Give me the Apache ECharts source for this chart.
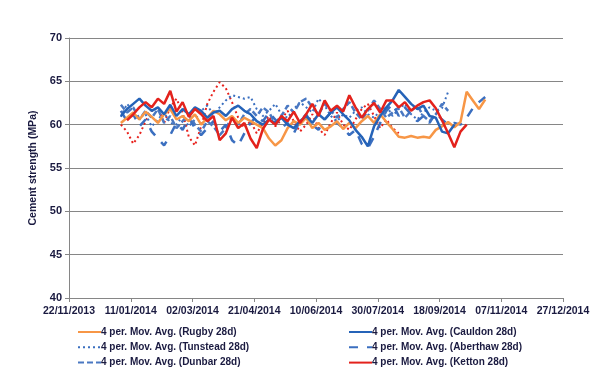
<!DOCTYPE html>
<html><head><meta charset="utf-8">
<script src="https://cdn.jsdelivr.net/npm/echarts@6/dist/echarts.min.js"></script>
<style>html,body{margin:0;padding:0;background:#fff}#c{width:600px;height:384px}</style>
</head><body><div id="c"></div>
<script>
// Excel-style day serials: 41600 = 22/11/2013
const xTickMin = 41600, xTickMax = 42000, xTickStep = 50;
const yMin = 40, yMax = 70, yStep = 5;
const stepDays = 5;

const rugbyStart = 41642;
const rugby = [60.2,60.8,61.4,60.6,61.5,60.9,60.2,61.2,61.8,60.6,61.0,60.4,61.2,60.0,60.8,61.6,61.2,60.5,61.0,60.2,60.8,60.4,60.0,59.6,58.4,57.6,58.2,59.6,60.4,60.0,60.8,59.6,60.2,59.4,59.8,60.4,59.5,60.2,59.6,60.4,61.0,60.2,61.2,60.3,59.5,58.6,58.5,58.7,58.5,58.6,58.5,59.4,59.8,60.3,59.7,60.3,63.8,62.8,61.8,62.9];

const cauldonStart = 41642;
const cauldon = [61.0,61.8,62.4,63.0,62.2,61.6,62.0,61.2,62.3,61.0,61.8,61.2,62.0,61.6,60.8,61.4,61.6,61.0,61.8,62.2,61.6,61.2,60.4,60.0,60.6,60.2,60.8,60.0,59.6,60.4,61.0,60.2,61.2,60.6,61.4,62.0,61.2,60.5,59.4,58.6,57.5,59.8,61.0,62.0,62.8,64.0,63.2,62.4,61.8,62.2,61.0,60.8,59.2,59.0,60.0];

const tunsteadStart = 41642;
const tunstead = [60.9,62.4,61.6,60.8,61.2,59.8,60.6,61.4,60.2,60.0,61.0,59.8,60.6,61.6,62.2,61.2,62.0,62.8,63.4,63.2,63.0,63.2,61.8,61.0,61.6,62.4,61.2,60.8,61.8,62.6,62.0,61.4,63.0,62.2,61.0,60.4,61.2,60.8,61.6,62.0,61.2,60.8,61.6,62.2,61.0,61.8,62.4,61.2,60.6,61.4,62.0,61.6,61.9,63.8];

const aberthawStart = 41642;
const aberthaw = [61.6,60.4,61.2,59.8,60.6,59.2,58.4,57.6,58.8,60.2,59.4,60.8,59.6,58.8,59.6,60.4,59.2,60.0,58.2,57.6,59.0,60.2,61.0,60.4,61.4,60.6,59.6,60.2,59.0,60.4,61.2,60.0,59.4,60.6,61.4,60.2,59.6,58.8,59.4,57.8,57.3,58.6,60.2,61.6,62.4,61.0,62.0,61.2,60.4,61.0,60.2,61.4,60.6,60.0,60.2,60.0,60.8,61.9,62.6,63.2];

const dunbarStart = 41642;
const dunbar = [62.3,61.4,62.0,60.6,61.6,60.8,61.8,60.2,61.0,59.6,60.4,61.2,60.0,59.2,60.4,59.8,58.8,59.6,60.8,60.0,61.2,61.8,61.0,62.0,61.4,60.2,61.0,62.2,61.4,62.6,63.0,62.0,61.2,62.4,61.6,60.8,61.8,62.6,61.4,60.6,61.6,62.8,61.8,60.8,61.4,62.0,60.8,61.6,62.2,61.0,60.4,61.2,62.4,61.6];

const kettonStart = 41647;
const ketton = [60.5,61.2,62.0,62.6,62.0,63.0,62.4,63.9,61.5,62.6,60.9,61.8,61.2,60.4,61.0,58.2,59.0,60.8,59.6,60.2,58.4,57.3,59.5,60.6,60.0,61.0,60.4,61.5,60.2,61.2,62.4,61.0,62.8,61.6,62.2,61.5,63.4,62.0,60.8,61.8,62.5,61.4,62.8,62.8,62.0,62.6,61.6,62.2,62.6,62.8,61.9,60.5,59.0,57.4,59.2,60.0];

// unlabelled red dotted trace seen in the plot
const redDottedStart = 41642;
const redDotted = [60.0,59.2,57.8,58.8,60.4,61.6,62.0,60.2,62.0,63.0,61.4,58.6,57.6,59.8,62.4,63.8,64.9,64.2,62.6,60.8,59.6,60.4,59.0,60.2,61.0,59.8,60.6,61.6,60.4,59.2,60.0,61.2,59.6,58.8,60.2,61.4,60.0,59.4,60.6,61.8,62.4,61.0,59.6,60.6,59.6,59.0];

const legendLeft = ['4 per. Mov. Avg. (Rugby 28d)','4 per. Mov. Avg. (Tunstead 28d)','4 per. Mov. Avg. (Dunbar 28d)'];
const legendRight = ['4 per. Mov. Avg. (Cauldon 28d)','4 per. Mov. Avg. (Aberthaw 28d)','4 per. Mov. Avg. (Ketton 28d)'];

function pts(start, vals){ return vals.map((v,i)=>[start + i*stepDays, v]); }
function serialToLabel(s){
  const d = new Date(Date.UTC(1899,11,30) + s*86400000);
  const dd = String(d.getUTCDate()).padStart(2,'0');
  const mm = String(d.getUTCMonth()+1).padStart(2,'0');
  return dd+'/'+mm+'/'+d.getUTCFullYear();
}
const txt = '#1a1a40';
function mk(name, data, color, width, type){
  return {name, type:'line', data, symbol:'none', smooth:false, animation:false,
    lineStyle:{color, width, type}, itemStyle:{color}};
}
const legendCommon = {orient:'vertical', top:327, padding:0, itemWidth:23, itemHeight:12, itemGap:5.3,
  itemStyle:{opacity:0},
  textStyle:{color:txt, fontFamily:'Liberation Sans', fontWeight:'bold', fontSize:10, padding:[0,0,0,-5]}};
const chart = echarts.init(document.getElementById('c'), null, {renderer:'canvas'});
chart.setOption({
  animation:false,
  grid:{left:69, right:37, top:38, bottom:86},
  xAxis:{type:'value', min:xTickMin, max:xTickMax, interval:xTickStep,
    axisLine:{show:true, lineStyle:{color:'#868686'}},
    axisTick:{show:true, length:4, lineStyle:{color:'#868686'}},
    splitLine:{show:false},
    axisLabel:{formatter:serialToLabel, color:txt, fontFamily:'Liberation Sans', fontWeight:'bold', fontSize:10.5, margin:8}},
  yAxis:{type:'value', min:yMin, max:yMax, interval:yStep,
    name:'Cement strength (MPa)', nameLocation:'middle', nameGap:27,
    nameTextStyle:{color:txt, fontFamily:'Liberation Sans', fontWeight:'bold', fontSize:10.5},
    axisLine:{show:true, lineStyle:{color:'#868686'}},
    axisTick:{show:true, length:4, lineStyle:{color:'#868686'}},
    splitLine:{lineStyle:{color:'#868686', width:1}},
    axisLabel:{color:txt, fontFamily:'Liberation Sans', fontWeight:'bold', fontSize:11, margin:7}},
  legend:[
    Object.assign({data:legendLeft, left:77}, legendCommon),
    Object.assign({data:legendRight, left:348}, legendCommon)
  ],
  series:[
    mk('redDotted', pts(redDottedStart, redDotted), '#e8211c', 2, [2,3]),
    mk(legendLeft[1], pts(tunsteadStart, tunstead), '#3a6fc0', 2, [2,3]),
    mk(legendLeft[2], pts(dunbarStart, dunbar), '#4a78c2', 2.5, [6,3]),
    mk(legendRight[1], pts(aberthawStart, aberthaw), '#3b6fc0', 2.5, [9,9]),
    mk(legendLeft[0], pts(rugbyStart, rugby), '#f79646', 2.5, 'solid'),
    mk(legendRight[0], pts(cauldonStart, cauldon), '#2563b8', 2.5, 'solid'),
    mk(legendRight[2], pts(kettonStart, ketton), '#e3221c', 2.5, 'solid')
  ]
});
</script></body></html>
